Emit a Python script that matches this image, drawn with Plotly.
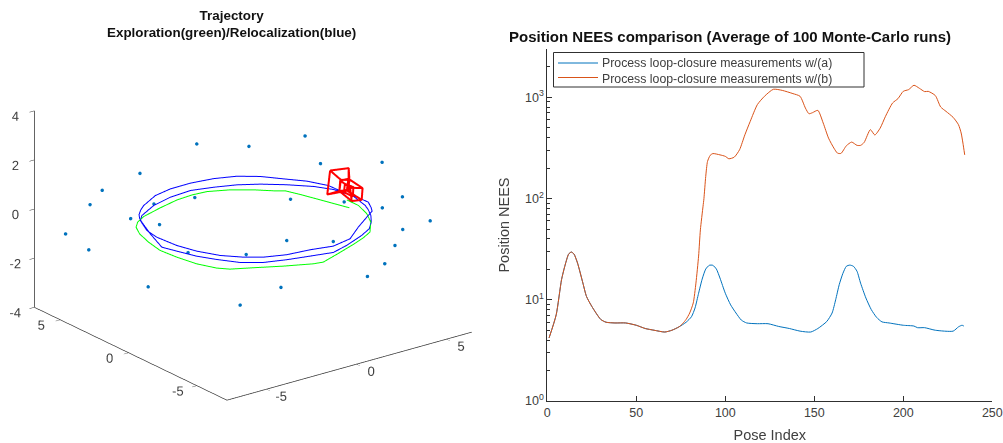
import plotly.graph_objects as go

# ---------- NEES curves ----------
pose_a = [1,5,8,10,12,13.5,15,17,20,22,25,30,33,38,44,50,55,60,66,70,74,78,81,83,85,87,89,91,93,95,97,100,103,106,109,112,118,124,130,136,142,148,152,157,160,162,164,166,168,170,172,174,176,179,182,185,188,192,200,206,208,212,218,228,231,233,234]
nees_a = [4.2,7.1,15.8,22,28.3,29.6,28.3,23,14.6,10.8,8.6,6.4,6.0,5.9,5.9,5.6,5.2,5.0,4.8,5.0,5.4,6.0,6.8,8.3,11.6,16,20.1,21.9,21.9,20.1,16.4,11.6,8.9,7.4,6.3,5.9,5.8,5.8,5.45,5.2,4.9,4.8,5.2,6.1,7.4,10,14.1,18.1,21.4,22,21.4,19.1,14.6,10.4,8,6.7,6.05,5.9,5.6,5.5,5.3,5.3,5.0,4.9,5.4,5.6,5.5]
pose_b = [1,5,8,10,12,13.5,15,17,20,22,25,30,33,38,44,50,55,60,66,70,74,76,78,80,82,83.5,85,86,87.5,88,89,90,91.5,93,97,100,102,105,108,111,114,118,122,127,132,138,142,145,147,149,152,155,158,161,163,165,168,171,174,176,178,181.5,184,187,190,194,197,200,203,206,209,212,214,218,221,224,228,231,232.5,233.5,234.5]
nees_b = [4.2,7.1,15.8,22,28.3,29.6,28.3,23,14.6,10.8,8.6,6.4,6.0,5.9,5.9,5.6,5.2,5.0,4.8,5.0,5.4,5.8,6.4,7.4,9.3,14.6,27,49,84,100,165,232,267,278,270,261,247,256,303,426,578,846,1023,1200,1170,1087,1023,783,688,705,743,557,395,315,281,279,332,361,335,335,358,479,424,496,649,879,970,1146,1191,1315,1228,1138,1145,1040,802,726,634,536,444,353,270]
legend_names = ["Process loop-closure measurements w/(a)", "Process loop-closure measurements w/(b)"]
x_ticks = [0,50,100,150,200,250]
y_ticks = [1,10,100,1000]
y_tick_text = ["10<sup>0</sup>","10<sup>1</sup>","10<sup>2</sup>","10<sup>3</sup>"]
y_minor = [2,3,4,5,6,7,8,9,20,30,40,50,60,70,80,90,200,300,400,500,600,700,800,900,2000,3000]

# ---------- 3D trajectory ----------
green_x = [4.00,3.55,3.24,2.98,2.57,1.93,1.11,0.17,-0.60,-1.5,-2.67,-3.9,-4.52,-4.94,-5.3,-5.59,-5.79,-5.69,-5.48,-5.08,-4.69,-3.77,-2.59,-1.36,-0.89,0.14,1.47,2.3,2.95,3.71,4.18,4.49,4.49]
green_y = [-1.41,0.14,1.19,1.94,2.25,2.89,3.51,3.96,4.04,3.96,3.65,3.25,2.87,2.43,1.7,0.66,-0.45,-1.55,-2.72,-3.67,-4.12,-4.61,-5.26,-5.84,-5.94,-5.56,-5.04,-4.67,-4.3,-3.36,-2.45,-1.43,-0.58]
blue_x = [4.93,4.89,4.45,3.8,3.15,2.34,1.35,0.19,-0.93,-1.95,-3.09,-3.51,-3.91,-4.18,-4.37,-4.92,-5.49,-5.25,-4.92,-4.45,-3.85,-3.03,-2.01,-0.92,0.17,1.15,2.41,3.17,3.73,4.2,4.52,4.73,4.98,4.78,4.3,3.48,2.59,1.71,0.72,-0.34,-1.54,-2.73,-3.88,-4.3,-4.8,-4.94,-4.84,-4.55,-4.04,-3.34,-2.64,-1.64,-0.45,0.63,1.76,2.9,3.94,4.56,4.81,5.08,5.06]
blue_y = [0.0,1.29,2.29,3.13,3.99,4.64,5.03,5.22,5.2,4.96,4.31,3.97,3.57,3.17,2.76,1.42,-0.18,-0.97,-1.98,-2.84,-3.75,-4.37,-4.73,-5.01,-5.28,-4.96,-4.4,-3.96,-3.37,-2.72,-2.11,-1.61,-0.43,0.78,1.6,2.48,3.25,3.81,4.2,4.51,4.4,4.05,3.4,2.96,1.82,0.92,-0.42,-1.5,-2.54,-3.33,-3.86,-4.25,-4.4,-4.67,-4.41,-3.51,-2.77,-2.34,-1.92,-1.37,-0.85]
lm_x = [-0.3,1.36,4.1,4.42,4.89,-2.66,-5.23,-4.91,-6.12,-4.67,-4.5,-2.61,-0.7,-3.92,2.55,4.25,5.16,4.88,5.9,4.3,4.65,4.75,3.21,-0.6,0.97,-3.05,-4.96,-5.28,-0.64,-3.37]
lm_y = [4.1,2.47,1.97,1.26,-2.63,5.15,4.53,5.84,6.04,6.25,3.41,4.19,3.72,2.06,0.99,-0.7,-2.29,-4.13,-4.82,-4.92,-3.89,-3.01,-3.77,-2.88,-4.22,-3.14,-1.4,1.1,-2.51,-3.12]
lm_z = [2,2,2,1,2,1,1,0,-1,-2,0,0,0,0,0,0,0,1,0,0,-1,-2,-2,0,0,0,0,-2,-2,-2]
cam_x = [4.25,5.08,3.44,2.4,4.25,None,3.95,4.25,3.48,3.07,3.95,None,4.25,3.95,None,5.08,4.25,None,3.44,3.48,None,2.4,3.07,None,
         3.69,4.11,3.22,2.78,3.69,None,4.29,3.88,3.07,3.38,4.29,None,4.29,4.11,None,3.07,2.78,None,3.38,3.22,None,3.88,3.69,None,
         3.8,3.86,3.15,3.16,3.8]
cam_y = [0.33,0.06,-2.08,-1.9,0.33,None,-0.85,-1.08,-2.01,-1.9,-0.85,None,0.33,-0.85,None,0.06,-1.08,None,-2.08,-2.01,None,-1.9,-1.9,None,
         -1.87,-2.23,-3.34,-3.19,-1.87,None,-0.96,-0.9,-1.9,-2.04,-0.96,None,-0.96,-2.23,None,-1.9,-3.19,None,-2.04,-3.34,None,-0.9,-1.87,None,
         -1.35,-1.89,-2.78,-2.12,-1.35]
cam_z = [None if v is None else 1 for v in cam_x]
axis3d_ticks = [-5,0,5]
axis3d_text = ["-5","0","5"]
z_ticks = [-4,-2,0,2,4]
z_text = ["-4","-2","0","2","4"]

TXT = "#404040"
AX = "#303030"
FONT = "Liberation Sans, Arial, sans-serif"

fig = go.Figure()
fig.add_trace(go.Scatter3d(x=lm_x, y=lm_y, z=lm_z, mode="markers", marker=dict(size=2, color="#0072BD"), showlegend=False))
fig.add_trace(go.Scatter3d(x=green_x, y=green_y, z=[0]*len(green_x), mode="lines", line=dict(color="#00FF00", width=2), showlegend=False))
fig.add_trace(go.Scatter3d(x=blue_x, y=blue_y, z=[0]*len(blue_x), mode="lines", line=dict(color="#0000FF", width=2), showlegend=False))
fig.add_trace(go.Scatter3d(x=cam_x, y=cam_y, z=cam_z, mode="lines", line=dict(color="#FF0000", width=4), showlegend=False))

fig.add_trace(go.Scatter(x=pose_a, y=nees_a, mode="lines", name=legend_names[0], line=dict(color="#0072BD", width=1, shape="spline", smoothing=0.6)))
fig.add_trace(go.Scatter(x=pose_b, y=nees_b, mode="lines", name=legend_names[1], line=dict(color="#D95319", width=1, shape="spline", smoothing=0.6)))

def ax3(rng, vals, text):
    return dict(range=rng, tickmode="array", tickvals=vals, ticktext=text, tickangle=0, showgrid=False, zeroline=False, showbackground=False,
                showline=True, linecolor=AX, linewidth=1.5, ticks="outside", ticklen=6, tickcolor=AX,
                tickfont=dict(size=12.5, color=TXT, family=FONT), title=dict(text=""), showspikes=False)

# legend box, samples and labels, in page fractions
def px(v): return v/1003
def py(v): return 1-v/443
shapes = [
    dict(type="rect", xref="paper", yref="paper", x0=px(553.5), x1=px(864), y0=py(52.5), y1=py(87), line=dict(color=AX, width=1), fillcolor="white", layer="above"),
    dict(type="line", xref="paper", yref="paper", x0=px(558), x1=px(598), y0=py(63), y1=py(63), line=dict(color="#0072BD", width=1), layer="above"),
    dict(type="line", xref="paper", yref="paper", x0=px(558), x1=px(598), y0=py(77.5), y1=py(77.5), line=dict(color="#D95319", width=1), layer="above"),
]
legend_labels = [
    dict(text=legend_names[i], x=px(599.5), y=py(yy), xref="paper", yref="paper", xanchor="left", yanchor="middle", showarrow=False,
         font=dict(size=12.3, color=TXT)) for i, yy in enumerate([63.5, 78.5])
]

fig.update_layout(
    width=1003, height=443, autosize=False, margin=dict(l=0, r=0, t=0, b=0, pad=0, autoexpand=False), paper_bgcolor="white", plot_bgcolor="white",
    font=dict(family=FONT, color=TXT), showlegend=False, shapes=shapes,
    scene=dict(
        domain=dict(x=[0, 506/1003], y=[0, 1]),
        xaxis=ax3([-7.2, 6.4], axis3d_ticks, axis3d_text), yaxis=ax3([-7.2, 6.9], axis3d_ticks, axis3d_text), zaxis=ax3([-4, 4], z_ticks, z_text),
        aspectmode="manual", aspectratio=dict(x=1.387, y=1.438, z=0.953),
        camera=dict(projection=dict(type="orthographic"), eye=dict(x=-1.103, y=-1.453, z=0.718), center=dict(x=0, y=0, z=0), up=dict(x=0, y=0, z=1)),
    ),
    xaxis=dict(domain=[547.3/1003, 992.3/1003], range=[0, 250], automargin=False, tickmode="array", tickvals=x_ticks, ticks="inside", ticklen=5,
               showline=True, linecolor=AX, tickcolor=AX, showgrid=False, zeroline=False, tickfont=dict(size=12.5, color=TXT),
               title=dict(text="Pose Index", font=dict(size=14.5, color=TXT), standoff=11)),
    yaxis=dict(domain=[1-401/443, 1-49/443], type="log", range=[0, 3.477], automargin=False, tickmode="array", tickvals=y_ticks, ticktext=y_tick_text, ticks="inside", ticklen=5,
               showline=True, linecolor=AX, tickcolor=AX, showgrid=False, zeroline=False, tickfont=dict(size=12.5, color=TXT),
               minor=dict(tickmode="array", tickvals=y_minor, ticks="inside", ticklen=3, tickcolor=AX, showgrid=False),
               title=dict(text="Position NEES", font=dict(size=14.5, color=TXT), standoff=11)),
    annotations=[
        dict(text="<b>Trajectory</b><br><b>Exploration(green)/Relocalization(blue)</b>", x=231.5/1003, y=1-6/443, xref="paper", yref="paper",
             xanchor="center", yanchor="top", showarrow=False, font=dict(size=13.4, color="#111111")),
        dict(text="<b>Position NEES comparison (Average of 100 Monte-Carlo runs)</b>", x=730/1003, y=1-36/443, xref="paper", yref="paper",
             xanchor="center", yanchor="middle", showarrow=False, font=dict(size=15, color="#111111")),
    ] + legend_labels,
)
fig.write_html("out.html", config=dict(displayModeBar=False, responsive=False), post_script="document.body.style.margin='0';")
